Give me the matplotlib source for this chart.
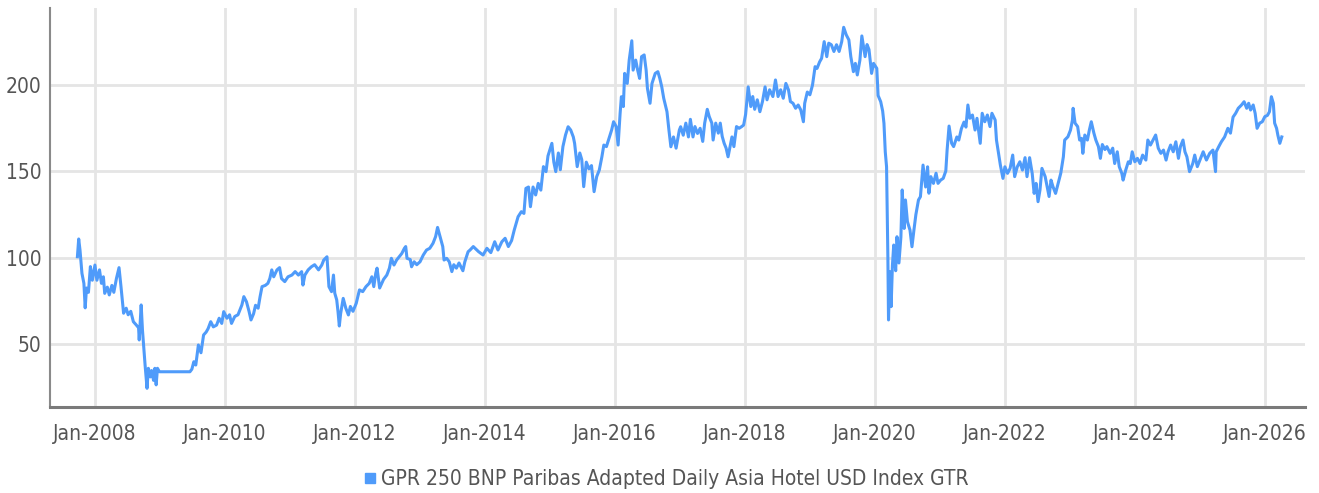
import matplotlib
matplotlib.use("Agg")
import matplotlib.pyplot as plt
import matplotlib.dates as mdates
from matplotlib.lines import Line2D
from matplotlib import font_manager
import numpy as np
import pandas as pd

series_name = "GPR 250 BNP Paribas Adapted Daily Asia Hotel USD Index GTR"

# dates as decimal years
years = [
    2007.73, 2007.75, 2007.77, 2007.80, 2007.83, 2007.85, 2007.87, 2007.90, 2007.93, 2007.96,
    2008.00, 2008.03, 2008.07, 2008.10, 2008.13, 2008.15, 2008.19, 2008.22, 2008.26, 2008.29,
    2008.33, 2008.37, 2008.40, 2008.44, 2008.48, 2008.51, 2008.55, 2008.59, 2008.63, 2008.67,
    2008.68, 2008.71, 2008.73, 2008.77, 2008.80, 2008.82, 2008.85, 2008.87, 2008.90, 2008.92,
    2008.94, 2008.96, 2008.99, 2009.46, 2009.49, 2009.52, 2009.55, 2009.59, 2009.63, 2009.67,
    2009.71, 2009.74, 2009.78, 2009.82, 2009.87, 2009.91, 2009.95, 2009.98, 2010.03, 2010.07,
    2010.10, 2010.15, 2010.20, 2010.26, 2010.29, 2010.33, 2010.37, 2010.40, 2010.44, 2010.47,
    2010.51, 2010.54, 2010.57, 2010.62, 2010.66, 2010.69, 2010.72, 2010.75, 2010.80, 2010.84,
    2010.87, 2010.92, 2010.97, 2011.03, 2011.08, 2011.13, 2011.18, 2011.20, 2011.23, 2011.28,
    2011.33, 2011.38, 2011.44, 2011.49, 2011.52, 2011.57, 2011.60, 2011.64, 2011.67, 2011.69,
    2011.72, 2011.74, 2011.76, 2011.78, 2011.82, 2011.86, 2011.90, 2011.93, 2011.97, 2012.02,
    2012.07, 2012.12, 2012.17, 2012.22, 2012.26, 2012.29, 2012.32, 2012.34, 2012.38, 2012.44,
    2012.49, 2012.53, 2012.56, 2012.60, 2012.64, 2012.68, 2012.72, 2012.76, 2012.78, 2012.80,
    2012.85, 2012.87, 2012.91, 2012.95, 2013.00, 2013.05, 2013.10, 2013.15, 2013.20, 2013.24,
    2013.27, 2013.31, 2013.35, 2013.37, 2013.41, 2013.45, 2013.49, 2013.52, 2013.56, 2013.60,
    2013.66, 2013.69, 2013.74, 2013.77, 2013.82, 2013.90, 2013.97, 2014.03, 2014.09, 2014.15,
    2014.20, 2014.26, 2014.31, 2014.36, 2014.41, 2014.45, 2014.48, 2014.51, 2014.56, 2014.60,
    2014.63, 2014.67, 2014.70, 2014.74, 2014.78, 2014.82, 2014.86, 2014.90, 2014.94, 2014.97,
    2015.03, 2015.06, 2015.09, 2015.13, 2015.16, 2015.20, 2015.24, 2015.28, 2015.32, 2015.36,
    2015.38, 2015.42, 2015.46, 2015.49, 2015.52, 2015.56, 2015.60, 2015.64, 2015.68, 2015.72,
    2015.76, 2015.80, 2015.83, 2015.87, 2015.91, 2015.95, 2015.98, 2016.02, 2016.05, 2016.08,
    2016.10, 2016.13, 2016.15, 2016.19, 2016.22, 2016.26, 2016.28, 2016.32, 2016.35, 2016.38,
    2016.41, 2016.45, 2016.48, 2016.50, 2016.54, 2016.57, 2016.62, 2016.66, 2016.69, 2016.72,
    2016.75, 2016.80, 2016.83, 2016.86, 2016.90, 2016.94, 2016.99, 2017.01, 2017.05, 2017.09,
    2017.13, 2017.16, 2017.20, 2017.23, 2017.27, 2017.31, 2017.35, 2017.38, 2017.42, 2017.45,
    2017.49, 2017.51, 2017.55, 2017.59, 2017.62, 2017.65, 2017.68, 2017.71, 2017.74, 2017.78,
    2017.80, 2017.83, 2017.87, 2017.91, 2017.95, 2017.98, 2018.01, 2018.05, 2018.09, 2018.12,
    2018.15, 2018.19, 2018.23, 2018.27, 2018.31, 2018.34, 2018.38, 2018.43, 2018.47, 2018.51,
    2018.55, 2018.59, 2018.63, 2018.67, 2018.70, 2018.74, 2018.78, 2018.82, 2018.86, 2018.90,
    2018.92, 2018.96, 2019.00, 2019.04, 2019.08, 2019.11, 2019.15, 2019.18, 2019.22, 2019.26,
    2019.29, 2019.33, 2019.37, 2019.41, 2019.45, 2019.49, 2019.52, 2019.56, 2019.60, 2019.63,
    2019.67, 2019.70, 2019.73, 2019.77, 2019.80, 2019.85, 2019.88, 2019.91, 2019.95, 2019.98,
    2020.03, 2020.05, 2020.09, 2020.12, 2020.14, 2020.16, 2020.18, 2020.20, 2020.21, 2020.23,
    2020.25, 2020.27, 2020.29, 2020.32, 2020.34, 2020.37, 2020.40, 2020.42, 2020.45, 2020.47,
    2020.50, 2020.54, 2020.57, 2020.60, 2020.63, 2020.67, 2020.70, 2020.74, 2020.78, 2020.81,
    2020.83, 2020.86, 2020.90, 2020.94, 2020.97, 2021.01, 2021.05, 2021.09, 2021.11, 2021.14,
    2021.18, 2021.21, 2021.26, 2021.29, 2021.33, 2021.37, 2021.40, 2021.43, 2021.46, 2021.50,
    2021.54, 2021.57, 2021.62, 2021.65, 2021.69, 2021.73, 2021.77, 2021.80, 2021.85, 2021.87,
    2021.91, 2021.93, 2021.97, 2022.00, 2022.04, 2022.08, 2022.12, 2022.15, 2022.19, 2022.23,
    2022.27, 2022.31, 2022.34, 2022.38, 2022.42, 2022.45, 2022.48, 2022.51, 2022.54, 2022.57,
    2022.62, 2022.65, 2022.68, 2022.71, 2022.74, 2022.78, 2022.82, 2022.86, 2022.90, 2022.92,
    2022.97, 2023.01, 2023.04, 2023.05, 2023.08, 2023.12, 2023.15, 2023.18, 2023.20, 2023.23,
    2023.27, 2023.30, 2023.33, 2023.37, 2023.40, 2023.44, 2023.47, 2023.50, 2023.54, 2023.57,
    2023.62, 2023.66, 2023.69, 2023.73, 2023.76, 2023.80, 2023.82, 2023.86, 2023.90, 2023.93,
    2023.96, 2024.00, 2024.04, 2024.08, 2024.12, 2024.17, 2024.20, 2024.24, 2024.28, 2024.32,
    2024.36, 2024.40, 2024.44, 2024.48, 2024.51, 2024.55, 2024.59, 2024.63, 2024.67, 2024.70,
    2024.74, 2024.77, 2024.80, 2024.84, 2024.89, 2024.92, 2024.96, 2025.00, 2025.05, 2025.10,
    2025.15, 2025.20, 2025.24, 2025.25, 2025.29, 2025.33, 2025.38, 2025.43, 2025.47, 2025.51,
    2025.55, 2025.59, 2025.64, 2025.68, 2025.72, 2025.75, 2025.78, 2025.82, 2025.85, 2025.88,
    2025.92, 2025.96, 2026.00, 2026.04, 2026.07, 2026.10, 2026.13, 2026.15, 2026.18, 2026.20,
    2026.23, 2026.26,
]

index_values = [
    100.6, 110.9, 104.5, 91.0, 85.2, 71.0, 82.5, 80.0, 94.9, 87.0,
    95.8, 87.0, 93.0, 85.2, 89.0, 79.4, 83.0, 78.5, 84.0, 80.0,
    88.0, 94.3, 83.3, 67.9, 70.8, 67.0, 69.0, 63.0, 61.3, 59.5,
    52.4, 72.7, 58.0, 37.9, 24.4, 36.0, 31.0, 34.7, 29.0, 36.0,
    26.4, 36.0, 34.0, 34.0, 35.5, 39.8, 37.9, 49.5, 45.0, 55.3,
    57.0, 59.0, 63.0, 60.0, 61.0, 65.0, 62.0, 68.8, 65.0, 67.0,
    62.0, 66.0, 67.0, 72.7, 77.5, 74.6, 69.0, 64.0, 67.6, 72.5,
    70.8, 77.5, 83.3, 84.0, 85.2, 88.0, 93.0, 89.0, 93.0, 94.3,
    88.0, 86.2, 89.0, 90.0, 92.0, 90.0, 92.0, 84.2, 90.0, 93.0,
    94.8, 96.0, 93.0, 95.8, 98.7, 100.6, 83.3, 80.4, 90.0, 79.5,
    75.6, 68.8, 60.5, 67.6, 76.5, 70.8, 66.9, 71.8, 69.0, 73.6,
    81.4, 80.4, 83.3, 85.2, 89.0, 83.3, 91.0, 94.0, 82.5, 87.5,
    90.0, 94.0, 99.7, 95.8, 98.7, 100.6, 102.5, 105.5, 106.5, 99.7,
    99.0, 94.8, 97.7, 96.0, 97.7, 101.6, 104.5, 105.5, 108.4, 112.3,
    117.6, 112.0, 106.5, 98.7, 99.7, 97.7, 92.0, 96.0, 94.0, 97.0,
    92.5, 97.7, 103.5, 104.5, 106.5, 103.6, 101.6, 105.5, 103.0, 109.3,
    104.5, 109.3, 111.3, 106.5, 110.0, 116.0, 120.0, 123.8, 126.7, 125.7,
    140.2, 141.0, 129.6, 141.0, 136.4, 143.1, 139.2, 152.8, 149.9, 159.0,
    166.3, 155.4, 149.9, 160.7, 151.0, 164.4, 171.1, 175.9, 174.0, 170.0,
    166.3, 152.8, 160.7, 156.9, 141.2, 155.4, 151.5, 153.4, 138.3, 147.0,
    150.8, 158.5, 165.3, 164.4, 169.2, 174.0, 178.8, 176.0, 165.3, 183.4,
    193.3, 187.6, 206.8, 201.0, 214.5, 225.7, 208.7, 214.5, 208.7, 203.9,
    216.5, 217.5, 208.7, 198.1, 189.5, 201.0, 206.8, 207.8, 203.9, 199.0,
    192.4, 184.6, 174.0, 164.3, 170.0, 163.5, 174.0, 175.9, 171.0, 178.0,
    170.0, 180.2, 170.0, 176.0, 172.0, 175.0, 167.4, 178.0, 186.0, 181.8,
    178.0, 168.2, 178.0, 172.2, 178.0, 170.3, 166.3, 163.5, 158.5, 166.3,
    170.0, 164.4, 176.0, 175.0, 176.0, 176.9, 183.0, 199.0, 187.6, 193.4,
    186.0, 191.5, 184.6, 190.5, 199.0, 191.5, 197.3, 193.4, 203.0, 193.4,
    197.3, 192.4, 201.0, 197.3, 190.5, 189.5, 186.6, 188.5, 185.6, 178.8,
    189.5, 196.0, 194.4, 200.0, 210.7, 209.7, 213.5, 215.5, 225.2, 216.5,
    224.3, 223.4, 219.5, 223.4, 219.5, 225.2, 233.5, 229.1, 226.2, 216.5,
    207.8, 212.6, 205.9, 214.5, 228.5, 216.5, 223.5, 220.6, 206.8, 212.6,
    209.7, 194.0, 190.4, 185.0, 177.9, 161.4, 152.7, 100.6, 64.0, 92.0,
    71.7, 95.6, 107.4, 92.5, 112.2, 97.0, 112.0, 139.3, 117.0, 133.5,
    121.0, 116.0, 106.4, 116.0, 125.0, 133.5, 135.4, 153.7, 141.0, 152.7,
    137.4, 147.0, 143.1, 149.0, 143.1, 145.0, 146.0, 150.3, 162.4, 176.3,
    166.3, 164.4, 170.0, 168.2, 174.8, 178.6, 175.7, 188.5, 180.8, 182.7,
    174.0, 180.8, 166.3, 183.7, 178.8, 182.7, 176.0, 183.7, 179.8, 168.2,
    158.5, 153.7, 146.0, 152.7, 148.9, 151.8, 159.5, 147.0, 152.7, 155.6,
    150.8, 158.0, 147.0, 158.0, 148.9, 137.3, 143.1, 132.5, 139.3, 151.8,
    147.0, 141.2, 135.5, 145.0, 141.2, 137.3, 143.1, 149.0, 158.5, 168.2,
    170.1, 174.0, 179.8, 186.6, 178.0, 176.0, 168.2, 169.2, 160.5, 171.1,
    168.2, 174.0, 178.8, 172.2, 168.2, 164.4, 157.6, 165.6, 162.7, 164.4,
    160.5, 163.5, 154.6, 161.4, 152.8, 148.9, 145.0, 150.8, 155.6, 154.6,
    161.4, 155.6, 157.6, 154.6, 159.5, 156.6, 168.2, 165.3, 168.2, 171.1,
    163.5, 160.5, 162.4, 156.6, 161.4, 165.3, 161.4, 167.2, 157.6, 164.4,
    168.2, 161.4, 158.5, 149.9, 154.6, 159.5, 152.8, 156.6, 161.4, 156.6,
    160.5, 162.4, 149.9, 161.4, 164.4, 167.2, 170.0, 175.0, 172.2, 181.5,
    183.7, 186.6, 188.5, 190.4, 186.6, 189.5, 185.6, 188.5, 183.7, 175.0,
    178.0, 178.8, 181.8, 182.5, 184.6, 193.3, 189.5, 178.0, 175.0, 171.0,
    166.3, 170.0,
]

y_ticks = [50, 100, 150, 200]
x_tick_years = [2008, 2010, 2012, 2014, 2016, 2018, 2020, 2022, 2024, 2026]


def to_dates(decimal_years):
    out = []
    for y in decimal_years:
        yr = int(np.floor(y))
        start = pd.Timestamp(year=yr, month=1, day=1)
        end = pd.Timestamp(year=yr + 1, month=1, day=1)
        out.append(start + (end - start) * (y - yr))
    return pd.DatetimeIndex(out)


dates = to_dates(years)

line_color = "#4f9bfa"
grid_color = "#e5e5e5"
text_color = "#555555"
fp = font_manager.FontProperties(family=["DejaVu Sans"], stretch="condensed", size=15)

fig = plt.figure(figsize=(13.19, 4.93), dpi=100)
ax = fig.add_axes([0.038, 0.1745, 0.9515, 0.809])

ax.plot(dates, index_values, color=line_color, lw=2.2, solid_joinstyle="round")

ax.set_ylim(13.6, 244.6)
ax.set_xlim(to_dates([2007.31])[0], to_dates([2026.62])[0])

ax.set_yticks(y_ticks)
ax.set_xticks(to_dates(x_tick_years))
ax.xaxis.set_major_formatter(mdates.DateFormatter("%b-%Y"))

ax.grid(True, color=grid_color, lw=2.0)
ax.set_axisbelow(True)

for s in ["top", "right"]:
    ax.spines[s].set_visible(False)
ax.spines["left"].set_color("#8a8a8a")
ax.spines["left"].set_linewidth(1.5)
ax.spines["bottom"].set_color("#7a7a7a")
ax.spines["bottom"].set_linewidth(2.2)

ax.tick_params(axis="both", length=0, colors=text_color)
ax.tick_params(axis="y", pad=6)
ax.tick_params(axis="x", pad=12)
for lab in ax.get_xticklabels() + ax.get_yticklabels():
    lab.set_fontproperties(fp)
    lab.set_color(text_color)

handle = Line2D([], [], color=line_color, marker="s", linestyle="none", markersize=7)
fig.legend([handle], [series_name], loc="lower center", bbox_to_anchor=(0.505, -0.03),
           frameon=False, handlelength=0.6, handletextpad=0.2,
           prop=fp, labelcolor=text_color)

fig.savefig("out.png", dpi=100)
